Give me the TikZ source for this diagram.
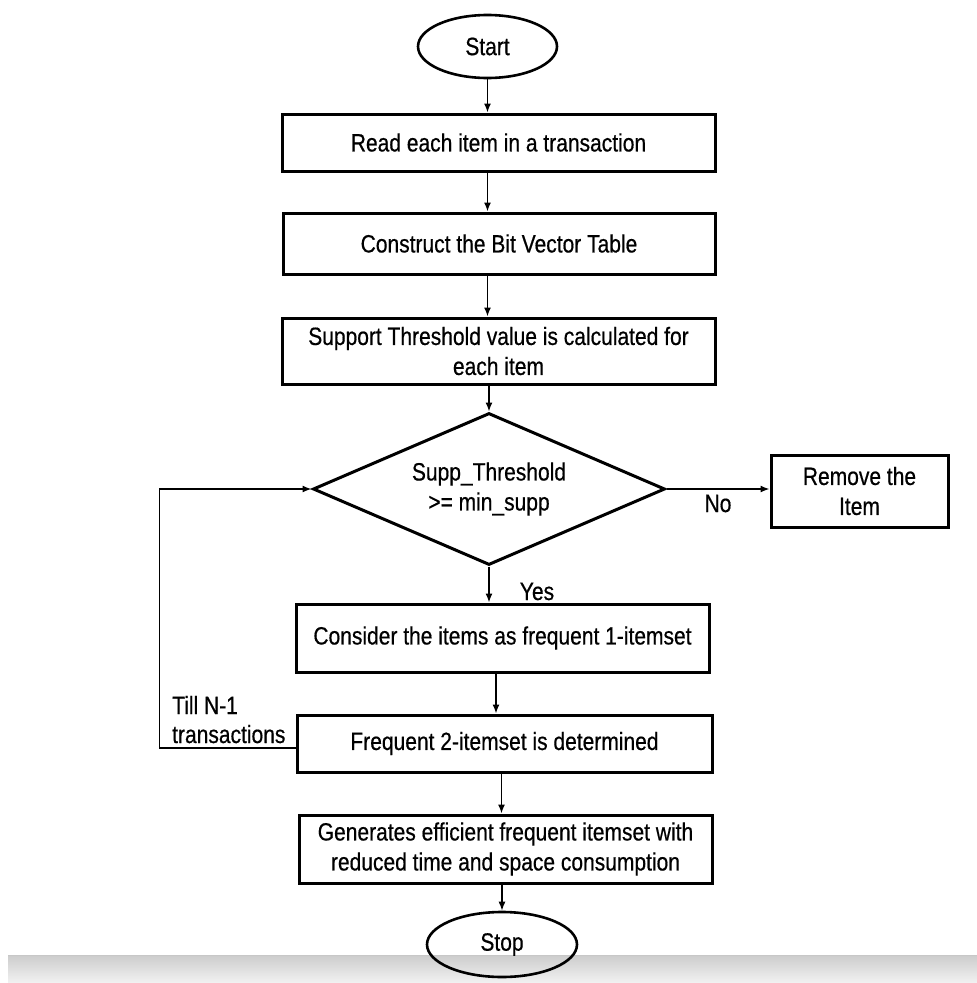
\documentclass[tikz,border=0pt]{standalone}
\usepackage{fontspec}
\setmainfont{Liberation Sans}[FakeStretch=0.84,FakeBold=0.5]
\usetikzlibrary{shapes.geometric,arrows.meta}
\tikzset{
  every node/.style={font=\fontsize{25}{30}\selectfont, inner sep=0pt},
  procbox/.style={draw, line width=3pt, rectangle, align=center},
  term/.style={draw, line width=2.6pt, ellipse},
  decision/.style={draw, line width=3pt, diamond, aspect=2.3, align=center},
  conn/.style={draw, line width=1.4pt, -{Latex[length=9pt,width=7pt]}},
  lbl/.style={anchor=base}
}
\begin{document}
\begin{tikzpicture}[x=1pt,y=-1pt]
\useasboundingbox (0,0) rectangle (977,983);
% bottom gray band
\shade[top color=black!20, bottom color=black!5] (8,955) rectangle (977,983);
\draw[black!22, line width=1pt] (8,955) -- (977,955);

\node[term, minimum width=139pt, minimum height=63pt] (st) at (487.5,46.5) {Start};
\node[procbox, minimum width=433pt, minimum height=57pt] (b1) at (498.5,142.5) {Read each item in a transaction};
\node[procbox, minimum width=432pt, minimum height=61pt] (b2) at (499,243.5) {Construct the Bit Vector Table};
\node[procbox, minimum width=433pt, minimum height=66pt] (b3) at (498.5,351) {Support Threshold value is calculated for\\each item};
\node[decision, minimum width=352pt, minimum height=152pt] (d) at (489,489) {Supp\_Threshold\\>= min\_supp};
\node[procbox, minimum width=177pt, minimum height=72pt] (rm) at (859.5,491) {Remove the\\Item};
\node[procbox, minimum width=413pt, minimum height=68pt] (c1) at (502.5,638) {Consider the items as frequent 1-itemset};
\node[procbox, minimum width=415pt, minimum height=57pt] (f2) at (504.5,743.5) {Frequent 2-itemset is determined};
\node[procbox, minimum width=413pt, minimum height=68pt] (g) at (505.5,849) {Generates efficient frequent itemset with\\reduced time and space consumption};
\node[term, minimum width=150pt, minimum height=65pt] (sp) at (502,944.5) {Stop};

% labels
\node[lbl] (yes) at (537,600) {Yes};
\node[lbl] (no) at (718,512) {No};
\node[anchor=base west] (till1) at (172,714) {Till N-1};
\node[anchor=base west] (till2) at (172,743) {transactions};

% connectors
\draw[conn] (st.south) -- (st.south |- b1.north);
\draw[conn] (b1.south -| st.south) -- (b2.north -| st.south);
\draw[conn] (b2.south -| st.south) -- (b3.north -| st.south);
\draw[conn] (b3.south -| d.north) -- (d.north);
\draw[conn] (d.south) -- (d.south |- c1.north);
\draw[conn] (d.east) -- (d.east -| rm.west);
\draw[conn] ([xshift=-6.5pt]c1.south) -- ([xshift=-6.5pt]c1.south |- f2.north);
\draw[conn] ([xshift=-3pt]f2.south) -- ([xshift=-3pt]f2.south |- g.north);
\draw[conn] (g.south -| sp.north) -- (sp.north);
\draw[conn] ([yshift=-4.5pt]f2.west) -- ++(-136,0) |- (d.west);
\end{tikzpicture}
\end{document}
